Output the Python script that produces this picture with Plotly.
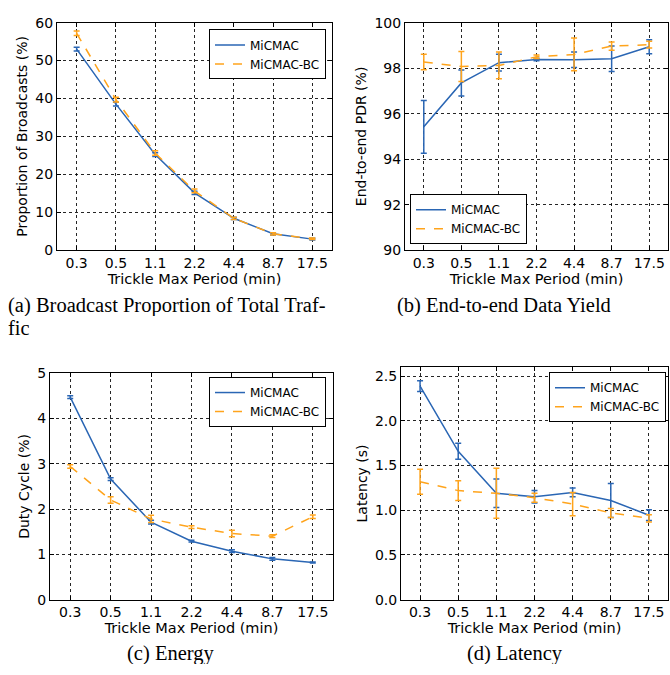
import plotly.graph_objects as go

periods = ["0.3", "0.5", "1.1", "2.2", "4.4", "8.7", "17.5"]
xi = list(range(len(periods)))

# (a) Broadcast proportion (%)
a_mic = [53.0, 38.5, 25.2, 15.1, 8.4, 4.3, 2.9]
a_mic_err = [0.5, 0.5, 0.5, 0.4, 0.3, 0.3, 0.2]
a_bc = [57.2, 39.7, 25.6, 15.6, 8.4, 4.3, 3.0]
a_bc_err = [0.6, 0.6, 0.6, 0.5, 0.3, 0.3, 0.2]

# (b) End-to-end PDR (%)
b_mic = [95.42, 97.35, 98.24, 98.38, 98.37, 98.41, 98.94]
b_mic_err = [1.16, 0.57, 0.37, 0.05, 0.34, 0.56, 0.31]
b_bc = [98.27, 98.07, 98.12, 98.50, 98.60, 98.97, 99.03]
b_bc_err = [0.34, 0.66, 0.59, 0.08, 0.72, 0.18, 0.15]

# (c) Duty cycle (%)
c_mic = [4.47, 2.66, 1.71, 1.29, 1.07, 0.90, 0.82]
c_mic_err = [0.03, 0.03, 0.04, 0.02, 0.03, 0.03, 0.01]
c_bc = [2.94, 2.20, 1.78, 1.60, 1.46, 1.40, 1.83]
c_bc_err = [0.04, 0.07, 0.08, 0.03, 0.07, 0.03, 0.04]

# (d) Latency (s)
d_mic = [2.39, 1.66, 1.19, 1.15, 1.20, 1.11, 0.945]
d_mic_err = [0.06, 0.09, 0.16, 0.07, 0.05, 0.19, 0.06]
d_bc = [1.32, 1.22, 1.19, 1.14, 1.07, 0.97, 0.91]
d_bc_err = [0.14, 0.11, 0.28, 0.05, 0.13, 0.05, 0.04]

BLUE = "#2a66b4"
ORANGE = "#ffa41c"
W, H = 670, 675

panels = [
    dict(mic=a_mic, me=a_mic_err, bc=a_bc, be=a_bc_err, x=(57, 332), y=(15, 248),
         yr=[0, 60], dt=10, fmt="", yt="Proportion of Broadcasts (%)",
         leg=dict(x=326, y=22, xa="right", ya="top")),
    dict(mic=b_mic, me=b_mic_err, bc=b_bc, be=b_bc_err, x=(405, 668), y=(15, 248),
         yr=[90, 100], dt=2, fmt="", yt="End-to-end PDR (%)",
         leg=dict(x=410, y=242, xa="left", ya="bottom")),
    dict(mic=c_mic, me=c_mic_err, bc=c_bc, be=c_bc_err, x=(50, 333), y=(374, 606),
         yr=[0, 5], dt=1, fmt="", yt="Duty Cycle (%)",
         leg=dict(x=326, y=378, xa="right", ya="top")),
    dict(mic=d_mic, me=d_mic_err, bc=d_bc, be=d_bc_err, x=(401, 668), y=(368, 606),
         yr=[0, 2.6], dt=0.5, fmt=".1f", yt="Latency (s)",
         leg=dict(x=666, y=373, xa="right", ya="top")),
]

fig = go.Figure()
layout = dict(width=W, height=H, margin=dict(l=0, r=0, t=0, b=0),
              paper_bgcolor="white", plot_bgcolor="white",
              font=dict(family="DejaVu Sans", size=14, color="black"),
              showlegend=True)

for i, p in enumerate(panels, start=1):
    xa = "x" if i == 1 else f"x{i}"
    ya = "y" if i == 1 else f"y{i}"
    lg = "legend" if i == 1 else f"legend{i}"
    fig.add_trace(go.Scatter(
        x=xi, y=p["mic"], mode="lines", name="MiCMAC",
        line=dict(color=BLUE, width=1.5),
        error_y=dict(type="data", array=p["me"], color=BLUE, thickness=1.5, width=3),
        xaxis=xa, yaxis=ya, legend=lg))
    fig.add_trace(go.Scatter(
        x=xi, y=p["bc"], mode="lines", name="MiCMAC-BC",
        line=dict(color=ORANGE, width=1.5, dash="dash"),
        error_y=dict(type="data", array=p["be"], color=ORANGE, thickness=1.5, width=3),
        xaxis=xa, yaxis=ya, legend=lg))
    axis_common = dict(showline=True, linecolor="black", linewidth=1, mirror="ticks",
                       ticks="inside", ticklen=4, tickcolor="black",
                       showgrid=True, gridcolor="rgba(0,0,0,0.85)", griddash="dot", gridwidth=1,
                       zeroline=False, tickfont=dict(size=14, family="DejaVu Sans"))
    layout["xaxis" if i == 1 else f"xaxis{i}"] = dict(
        axis_common, domain=[p["x"][0] / W, p["x"][1] / W], anchor=ya,
        range=[-0.5, 6.5], tickmode="array", tickvals=xi, ticktext=periods,
        title=dict(text="Trickle Max Period (min)", font=dict(size=14.5), standoff=1))
    layout["yaxis" if i == 1 else f"yaxis{i}"] = dict(
        axis_common, domain=[1 - p["y"][1] / H, 1 - p["y"][0] / H], anchor=xa,
        range=p["yr"], dtick=p["dt"], tickformat=p["fmt"],
        title=dict(text=p["yt"], font=dict(size=14), standoff=4))
    L = p["leg"]
    layout[lg] = dict(x=L["x"] / W, y=1 - L["y"] / H, xanchor=L["xa"], yanchor=L["ya"],
                      xref="paper", yref="paper",
                      bgcolor="white", bordercolor="black", borderwidth=1,
                      font=dict(size=12, family="DejaVu Sans"),
                      itemwidth=30, tracegroupgap=0)

# caption lines: (text, x, y-center px, anchor)
captions = [
    ("(a) Broadcast Proportion of Total Traf-", 7, 305, "left"),
    ("fic", 7, 327, "left"),
    ("(b) End-to-end Data Yield", 396, 305, "left"),
    ("(c) Energy", 170, 661, "center"),
    ("(d) Latency", 515, 661, "center"),
]
anns = []
for text, x, y, al in captions:
    anns.append(dict(text=text, x=x / W, y=1 - y / H, xref="paper", yref="paper",
                     xanchor=al, yanchor="middle", align="left", valign="middle",
                     showarrow=False, height=21, borderpad=0,
                     font=dict(family="Liberation Serif", size=20.5, color="black")))
layout["annotations"] = anns
fig.update_layout(**layout)
fig.write_html("out.html", config={"displayModeBar": False},
               post_script="document.body.style.margin='0';document.body.style.overflow='hidden';")
